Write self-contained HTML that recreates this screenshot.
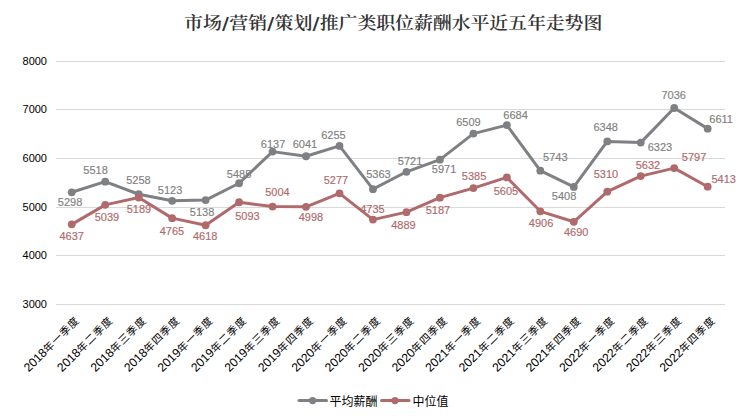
<!DOCTYPE html><html><head><meta charset="utf-8"><style>html,body{margin:0;padding:0;background:#fff;}svg{display:block}</style></head><body>
<svg width="748" height="419" viewBox="0 0 748 419">
<rect x="0" y="0" width="748" height="419" fill="#fff"/>
<text x="184" y="29.5" transform="matrix(1 0 0 0.9 0 2.6)" font-family="'Liberation Serif','Noto Serif CJK SC',serif" font-weight="600" font-size="19" fill="#333">市场<tspan font-family="'DejaVu Serif',serif" font-weight="700">/</tspan><tspan dx="0.3">营</tspan>销<tspan font-family="'DejaVu Serif',serif" font-weight="700">/</tspan><tspan dx="0.3">策</tspan>划<tspan font-family="'DejaVu Serif',serif" font-weight="700">/</tspan><tspan dx="0.3" letter-spacing="-0.15">推广类职位薪酬水平近五年走势图</tspan></text>
<rect x="56" y="61" width="669" height="1" fill="#d9d9d9"/>
<text x="47" y="65" text-anchor="end" font-family="'Liberation Sans',sans-serif" font-size="11" fill="#000">8000</text>
<rect x="56" y="109" width="669" height="1" fill="#d9d9d9"/>
<text x="47" y="113" text-anchor="end" font-family="'Liberation Sans',sans-serif" font-size="11" fill="#000">7000</text>
<rect x="56" y="158" width="669" height="1" fill="#d9d9d9"/>
<text x="47" y="162" text-anchor="end" font-family="'Liberation Sans',sans-serif" font-size="11" fill="#000">6000</text>
<rect x="56" y="207" width="669" height="1" fill="#d9d9d9"/>
<text x="47" y="211" text-anchor="end" font-family="'Liberation Sans',sans-serif" font-size="11" fill="#000">5000</text>
<rect x="56" y="255" width="669" height="1" fill="#d9d9d9"/>
<text x="47" y="259" text-anchor="end" font-family="'Liberation Sans',sans-serif" font-size="11" fill="#000">4000</text>
<rect x="56" y="304" width="669" height="1" fill="#d9d9d9"/>
<text x="47" y="308" text-anchor="end" font-family="'Liberation Sans',sans-serif" font-size="11" fill="#000">3000</text>
<text x="70.1" y="205.5" text-anchor="middle" font-family="'Liberation Sans',sans-serif" font-size="11" fill="#7f7f7f" stroke="#7f7f7f" stroke-width="0.15">5298</text>
<text x="95.6" y="174.25" text-anchor="middle" font-family="'Liberation Sans',sans-serif" font-size="11" fill="#7f7f7f" stroke="#7f7f7f" stroke-width="0.15">5518</text>
<text x="138.5" y="183.75" text-anchor="middle" font-family="'Liberation Sans',sans-serif" font-size="11" fill="#7f7f7f" stroke="#7f7f7f" stroke-width="0.15">5258</text>
<text x="170.1" y="193.75" text-anchor="middle" font-family="'Liberation Sans',sans-serif" font-size="11" fill="#7f7f7f" stroke="#7f7f7f" stroke-width="0.15">5123</text>
<text x="202.1" y="216" text-anchor="middle" font-family="'Liberation Sans',sans-serif" font-size="11" fill="#7f7f7f" stroke="#7f7f7f" stroke-width="0.15">5138</text>
<text x="239.1" y="177.5" text-anchor="middle" font-family="'Liberation Sans',sans-serif" font-size="11" fill="#7f7f7f" stroke="#7f7f7f" stroke-width="0.15">5485</text>
<text x="273.1" y="147.5" text-anchor="middle" font-family="'Liberation Sans',sans-serif" font-size="11" fill="#7f7f7f" stroke="#7f7f7f" stroke-width="0.15">6137</text>
<text x="305" y="148.25" text-anchor="middle" font-family="'Liberation Sans',sans-serif" font-size="11" fill="#7f7f7f" stroke="#7f7f7f" stroke-width="0.15">6041</text>
<text x="333.4" y="139.25" text-anchor="middle" font-family="'Liberation Sans',sans-serif" font-size="11" fill="#7f7f7f" stroke="#7f7f7f" stroke-width="0.15">6255</text>
<text x="378.5" y="178.25" text-anchor="middle" font-family="'Liberation Sans',sans-serif" font-size="11" fill="#7f7f7f" stroke="#7f7f7f" stroke-width="0.15">5363</text>
<text x="410.1" y="164.5" text-anchor="middle" font-family="'Liberation Sans',sans-serif" font-size="11" fill="#7f7f7f" stroke="#7f7f7f" stroke-width="0.15">5721</text>
<text x="444.1" y="172.5" text-anchor="middle" font-family="'Liberation Sans',sans-serif" font-size="11" fill="#7f7f7f" stroke="#7f7f7f" stroke-width="0.15">5971</text>
<text x="468.4" y="126.25" text-anchor="middle" font-family="'Liberation Sans',sans-serif" font-size="11" fill="#7f7f7f" stroke="#7f7f7f" stroke-width="0.15">6509</text>
<text x="515.6" y="119.25" text-anchor="middle" font-family="'Liberation Sans',sans-serif" font-size="11" fill="#7f7f7f" stroke="#7f7f7f" stroke-width="0.15">6684</text>
<text x="555.3" y="161.25" text-anchor="middle" font-family="'Liberation Sans',sans-serif" font-size="11" fill="#7f7f7f" stroke="#7f7f7f" stroke-width="0.15">5743</text>
<text x="564.1" y="200" text-anchor="middle" font-family="'Liberation Sans',sans-serif" font-size="11" fill="#7f7f7f" stroke="#7f7f7f" stroke-width="0.15">5408</text>
<text x="605.75" y="131.25" text-anchor="middle" font-family="'Liberation Sans',sans-serif" font-size="11" fill="#7f7f7f" stroke="#7f7f7f" stroke-width="0.15">6348</text>
<text x="659.9" y="151.25" text-anchor="middle" font-family="'Liberation Sans',sans-serif" font-size="11" fill="#7f7f7f" stroke="#7f7f7f" stroke-width="0.15">6323</text>
<text x="673.75" y="99.25" text-anchor="middle" font-family="'Liberation Sans',sans-serif" font-size="11" fill="#7f7f7f" stroke="#7f7f7f" stroke-width="0.15">7036</text>
<text x="721.1" y="123.25" text-anchor="middle" font-family="'Liberation Sans',sans-serif" font-size="11" fill="#7f7f7f" stroke="#7f7f7f" stroke-width="0.15">6611</text>
<text x="71.75" y="240" text-anchor="middle" font-family="'Liberation Sans',sans-serif" font-size="11" fill="#b0696b" stroke="#b0696b" stroke-width="0.15">4637</text>
<text x="106.9" y="221.25" text-anchor="middle" font-family="'Liberation Sans',sans-serif" font-size="11" fill="#b0696b" stroke="#b0696b" stroke-width="0.15">5039</text>
<text x="138.9" y="213.25" text-anchor="middle" font-family="'Liberation Sans',sans-serif" font-size="11" fill="#b0696b" stroke="#b0696b" stroke-width="0.15">5189</text>
<text x="171.9" y="235" text-anchor="middle" font-family="'Liberation Sans',sans-serif" font-size="11" fill="#b0696b" stroke="#b0696b" stroke-width="0.15">4765</text>
<text x="205.25" y="240" text-anchor="middle" font-family="'Liberation Sans',sans-serif" font-size="11" fill="#b0696b" stroke="#b0696b" stroke-width="0.15">4618</text>
<text x="247.5" y="220" text-anchor="middle" font-family="'Liberation Sans',sans-serif" font-size="11" fill="#b0696b" stroke="#b0696b" stroke-width="0.15">5093</text>
<text x="277.5" y="196.25" text-anchor="middle" font-family="'Liberation Sans',sans-serif" font-size="11" fill="#b0696b" stroke="#b0696b" stroke-width="0.15">5004</text>
<text x="310.9" y="220.75" text-anchor="middle" font-family="'Liberation Sans',sans-serif" font-size="11" fill="#b0696b" stroke="#b0696b" stroke-width="0.15">4998</text>
<text x="335.9" y="184.25" text-anchor="middle" font-family="'Liberation Sans',sans-serif" font-size="11" fill="#b0696b" stroke="#b0696b" stroke-width="0.15">5277</text>
<text x="372.5" y="213.25" text-anchor="middle" font-family="'Liberation Sans',sans-serif" font-size="11" fill="#b0696b" stroke="#b0696b" stroke-width="0.15">4735</text>
<text x="403.4" y="229" text-anchor="middle" font-family="'Liberation Sans',sans-serif" font-size="11" fill="#b0696b" stroke="#b0696b" stroke-width="0.15">4889</text>
<text x="437.9" y="214.25" text-anchor="middle" font-family="'Liberation Sans',sans-serif" font-size="11" fill="#b0696b" stroke="#b0696b" stroke-width="0.15">5187</text>
<text x="474.1" y="180" text-anchor="middle" font-family="'Liberation Sans',sans-serif" font-size="11" fill="#b0696b" stroke="#b0696b" stroke-width="0.15">5385</text>
<text x="506" y="195" text-anchor="middle" font-family="'Liberation Sans',sans-serif" font-size="11" fill="#b0696b" stroke="#b0696b" stroke-width="0.15">5605</text>
<text x="541.1" y="227.25" text-anchor="middle" font-family="'Liberation Sans',sans-serif" font-size="11" fill="#b0696b" stroke="#b0696b" stroke-width="0.15">4906</text>
<text x="576.25" y="236.25" text-anchor="middle" font-family="'Liberation Sans',sans-serif" font-size="11" fill="#b0696b" stroke="#b0696b" stroke-width="0.15">4690</text>
<text x="605.9" y="178" text-anchor="middle" font-family="'Liberation Sans',sans-serif" font-size="11" fill="#b0696b" stroke="#b0696b" stroke-width="0.15">5310</text>
<text x="647.9" y="169" text-anchor="middle" font-family="'Liberation Sans',sans-serif" font-size="11" fill="#b0696b" stroke="#b0696b" stroke-width="0.15">5632</text>
<text x="694.1" y="161.25" text-anchor="middle" font-family="'Liberation Sans',sans-serif" font-size="11" fill="#b0696b" stroke="#b0696b" stroke-width="0.15">5797</text>
<text x="723.75" y="182.75" text-anchor="middle" font-family="'Liberation Sans',sans-serif" font-size="11" fill="#b0696b" stroke="#b0696b" stroke-width="0.15">5413</text>
<polyline points="71.75,192.30 105.22,181.63 138.69,194.24 172.16,200.79 205.63,200.06 239.10,183.23 272.57,151.62 306.04,156.27 339.51,145.90 372.98,189.15 406.45,171.79 439.92,159.67 473.39,133.58 506.86,125.09 540.33,170.72 573.80,186.97 607.27,141.39 640.74,142.60 674.21,108.02 707.68,128.63" fill="none" stroke="#7f8084" stroke-width="3" stroke-linejoin="round" stroke-linecap="round"/><circle cx="71.75" cy="192.30" r="3.9" fill="#7f8084"/><circle cx="105.22" cy="181.63" r="3.9" fill="#7f8084"/><circle cx="138.69" cy="194.24" r="3.9" fill="#7f8084"/><circle cx="172.16" cy="200.79" r="3.9" fill="#7f8084"/><circle cx="205.63" cy="200.06" r="3.9" fill="#7f8084"/><circle cx="239.10" cy="183.23" r="3.9" fill="#7f8084"/><circle cx="272.57" cy="151.62" r="3.9" fill="#7f8084"/><circle cx="306.04" cy="156.27" r="3.9" fill="#7f8084"/><circle cx="339.51" cy="145.90" r="3.9" fill="#7f8084"/><circle cx="372.98" cy="189.15" r="3.9" fill="#7f8084"/><circle cx="406.45" cy="171.79" r="3.9" fill="#7f8084"/><circle cx="439.92" cy="159.67" r="3.9" fill="#7f8084"/><circle cx="473.39" cy="133.58" r="3.9" fill="#7f8084"/><circle cx="506.86" cy="125.09" r="3.9" fill="#7f8084"/><circle cx="540.33" cy="170.72" r="3.9" fill="#7f8084"/><circle cx="573.80" cy="186.97" r="3.9" fill="#7f8084"/><circle cx="607.27" cy="141.39" r="3.9" fill="#7f8084"/><circle cx="640.74" cy="142.60" r="3.9" fill="#7f8084"/><circle cx="674.21" cy="108.02" r="3.9" fill="#7f8084"/><circle cx="707.68" cy="128.63" r="3.9" fill="#7f8084"/>
<polyline points="71.75,224.35 105.22,204.86 138.69,197.59 172.16,218.15 205.63,225.27 239.10,202.24 272.57,206.56 306.04,206.85 339.51,193.32 372.98,219.60 406.45,212.13 439.92,197.68 473.39,188.08 506.86,177.41 540.33,211.31 573.80,221.78 607.27,191.72 640.74,176.10 674.21,168.10 707.68,186.72" fill="none" stroke="#b06a6c" stroke-width="3" stroke-linejoin="round" stroke-linecap="round"/><circle cx="71.75" cy="224.35" r="3.9" fill="#b06a6c"/><circle cx="105.22" cy="204.86" r="3.9" fill="#b06a6c"/><circle cx="138.69" cy="197.59" r="3.9" fill="#b06a6c"/><circle cx="172.16" cy="218.15" r="3.9" fill="#b06a6c"/><circle cx="205.63" cy="225.27" r="3.9" fill="#b06a6c"/><circle cx="239.10" cy="202.24" r="3.9" fill="#b06a6c"/><circle cx="272.57" cy="206.56" r="3.9" fill="#b06a6c"/><circle cx="306.04" cy="206.85" r="3.9" fill="#b06a6c"/><circle cx="339.51" cy="193.32" r="3.9" fill="#b06a6c"/><circle cx="372.98" cy="219.60" r="3.9" fill="#b06a6c"/><circle cx="406.45" cy="212.13" r="3.9" fill="#b06a6c"/><circle cx="439.92" cy="197.68" r="3.9" fill="#b06a6c"/><circle cx="473.39" cy="188.08" r="3.9" fill="#b06a6c"/><circle cx="506.86" cy="177.41" r="3.9" fill="#b06a6c"/><circle cx="540.33" cy="211.31" r="3.9" fill="#b06a6c"/><circle cx="573.80" cy="221.78" r="3.9" fill="#b06a6c"/><circle cx="607.27" cy="191.72" r="3.9" fill="#b06a6c"/><circle cx="640.74" cy="176.10" r="3.9" fill="#b06a6c"/><circle cx="674.21" cy="168.10" r="3.9" fill="#b06a6c"/><circle cx="707.68" cy="186.72" r="3.9" fill="#b06a6c"/>
<text x="80.05" y="321.2" text-anchor="end" transform="rotate(-45 80.05 321.2)" font-family="'Liberation Sans','Noto Sans CJK SC',sans-serif" font-size="10.6" fill="#000"><tspan font-size="12.2">2018</tspan><tspan letter-spacing="0.8">年一季度</tspan></text>
<text x="113.52" y="321.2" text-anchor="end" transform="rotate(-45 113.52 321.2)" font-family="'Liberation Sans','Noto Sans CJK SC',sans-serif" font-size="10.6" fill="#000"><tspan font-size="12.2">2018</tspan><tspan letter-spacing="0.8">年二季度</tspan></text>
<text x="146.99" y="321.2" text-anchor="end" transform="rotate(-45 146.99 321.2)" font-family="'Liberation Sans','Noto Sans CJK SC',sans-serif" font-size="10.6" fill="#000"><tspan font-size="12.2">2018</tspan><tspan letter-spacing="0.8">年三季度</tspan></text>
<text x="180.46" y="321.2" text-anchor="end" transform="rotate(-45 180.46 321.2)" font-family="'Liberation Sans','Noto Sans CJK SC',sans-serif" font-size="10.6" fill="#000"><tspan font-size="12.2">2018</tspan><tspan letter-spacing="0.8">年四季度</tspan></text>
<text x="213.93" y="321.2" text-anchor="end" transform="rotate(-45 213.93 321.2)" font-family="'Liberation Sans','Noto Sans CJK SC',sans-serif" font-size="10.6" fill="#000"><tspan font-size="12.2">2019</tspan><tspan letter-spacing="0.8">年一季度</tspan></text>
<text x="247.40" y="321.2" text-anchor="end" transform="rotate(-45 247.40 321.2)" font-family="'Liberation Sans','Noto Sans CJK SC',sans-serif" font-size="10.6" fill="#000"><tspan font-size="12.2">2019</tspan><tspan letter-spacing="0.8">年二季度</tspan></text>
<text x="280.87" y="321.2" text-anchor="end" transform="rotate(-45 280.87 321.2)" font-family="'Liberation Sans','Noto Sans CJK SC',sans-serif" font-size="10.6" fill="#000"><tspan font-size="12.2">2019</tspan><tspan letter-spacing="0.8">年三季度</tspan></text>
<text x="314.34" y="321.2" text-anchor="end" transform="rotate(-45 314.34 321.2)" font-family="'Liberation Sans','Noto Sans CJK SC',sans-serif" font-size="10.6" fill="#000"><tspan font-size="12.2">2019</tspan><tspan letter-spacing="0.8">年四季度</tspan></text>
<text x="347.81" y="321.2" text-anchor="end" transform="rotate(-45 347.81 321.2)" font-family="'Liberation Sans','Noto Sans CJK SC',sans-serif" font-size="10.6" fill="#000"><tspan font-size="12.2">2020</tspan><tspan letter-spacing="0.8">年一季度</tspan></text>
<text x="381.28" y="321.2" text-anchor="end" transform="rotate(-45 381.28 321.2)" font-family="'Liberation Sans','Noto Sans CJK SC',sans-serif" font-size="10.6" fill="#000"><tspan font-size="12.2">2020</tspan><tspan letter-spacing="0.8">年二季度</tspan></text>
<text x="414.75" y="321.2" text-anchor="end" transform="rotate(-45 414.75 321.2)" font-family="'Liberation Sans','Noto Sans CJK SC',sans-serif" font-size="10.6" fill="#000"><tspan font-size="12.2">2020</tspan><tspan letter-spacing="0.8">年三季度</tspan></text>
<text x="448.22" y="321.2" text-anchor="end" transform="rotate(-45 448.22 321.2)" font-family="'Liberation Sans','Noto Sans CJK SC',sans-serif" font-size="10.6" fill="#000"><tspan font-size="12.2">2020</tspan><tspan letter-spacing="0.8">年四季度</tspan></text>
<text x="481.69" y="321.2" text-anchor="end" transform="rotate(-45 481.69 321.2)" font-family="'Liberation Sans','Noto Sans CJK SC',sans-serif" font-size="10.6" fill="#000"><tspan font-size="12.2">2021</tspan><tspan letter-spacing="0.8">年一季度</tspan></text>
<text x="515.16" y="321.2" text-anchor="end" transform="rotate(-45 515.16 321.2)" font-family="'Liberation Sans','Noto Sans CJK SC',sans-serif" font-size="10.6" fill="#000"><tspan font-size="12.2">2021</tspan><tspan letter-spacing="0.8">年二季度</tspan></text>
<text x="548.63" y="321.2" text-anchor="end" transform="rotate(-45 548.63 321.2)" font-family="'Liberation Sans','Noto Sans CJK SC',sans-serif" font-size="10.6" fill="#000"><tspan font-size="12.2">2021</tspan><tspan letter-spacing="0.8">年三季度</tspan></text>
<text x="582.10" y="321.2" text-anchor="end" transform="rotate(-45 582.10 321.2)" font-family="'Liberation Sans','Noto Sans CJK SC',sans-serif" font-size="10.6" fill="#000"><tspan font-size="12.2">2021</tspan><tspan letter-spacing="0.8">年四季度</tspan></text>
<text x="615.57" y="321.2" text-anchor="end" transform="rotate(-45 615.57 321.2)" font-family="'Liberation Sans','Noto Sans CJK SC',sans-serif" font-size="10.6" fill="#000"><tspan font-size="12.2">2022</tspan><tspan letter-spacing="0.8">年一季度</tspan></text>
<text x="649.04" y="321.2" text-anchor="end" transform="rotate(-45 649.04 321.2)" font-family="'Liberation Sans','Noto Sans CJK SC',sans-serif" font-size="10.6" fill="#000"><tspan font-size="12.2">2022</tspan><tspan letter-spacing="0.8">年二季度</tspan></text>
<text x="682.51" y="321.2" text-anchor="end" transform="rotate(-45 682.51 321.2)" font-family="'Liberation Sans','Noto Sans CJK SC',sans-serif" font-size="10.6" fill="#000"><tspan font-size="12.2">2022</tspan><tspan letter-spacing="0.8">年三季度</tspan></text>
<text x="715.98" y="321.2" text-anchor="end" transform="rotate(-45 715.98 321.2)" font-family="'Liberation Sans','Noto Sans CJK SC',sans-serif" font-size="10.6" fill="#000"><tspan font-size="12.2">2022</tspan><tspan letter-spacing="0.8">年四季度</tspan></text>
<line x1="299" y1="400.5" x2="326.5" y2="400.5" stroke="#7f8084" stroke-width="3" stroke-linecap="round"/><circle cx="312.6" cy="400.6" r="3.6" fill="#7f8084"/>
<text x="329.5" y="406.3" font-family="'Liberation Sans','Noto Sans CJK SC',sans-serif" font-size="12" fill="#000">平均薪酬</text>
<line x1="381.5" y1="400.5" x2="409" y2="400.5" stroke="#b06a6c" stroke-width="3" stroke-linecap="round"/><circle cx="395" cy="400.6" r="3.6" fill="#b06a6c"/>
<text x="412.5" y="406.3" font-family="'Liberation Sans','Noto Sans CJK SC',sans-serif" font-size="12" fill="#000">中位值</text>
</svg></body></html>
